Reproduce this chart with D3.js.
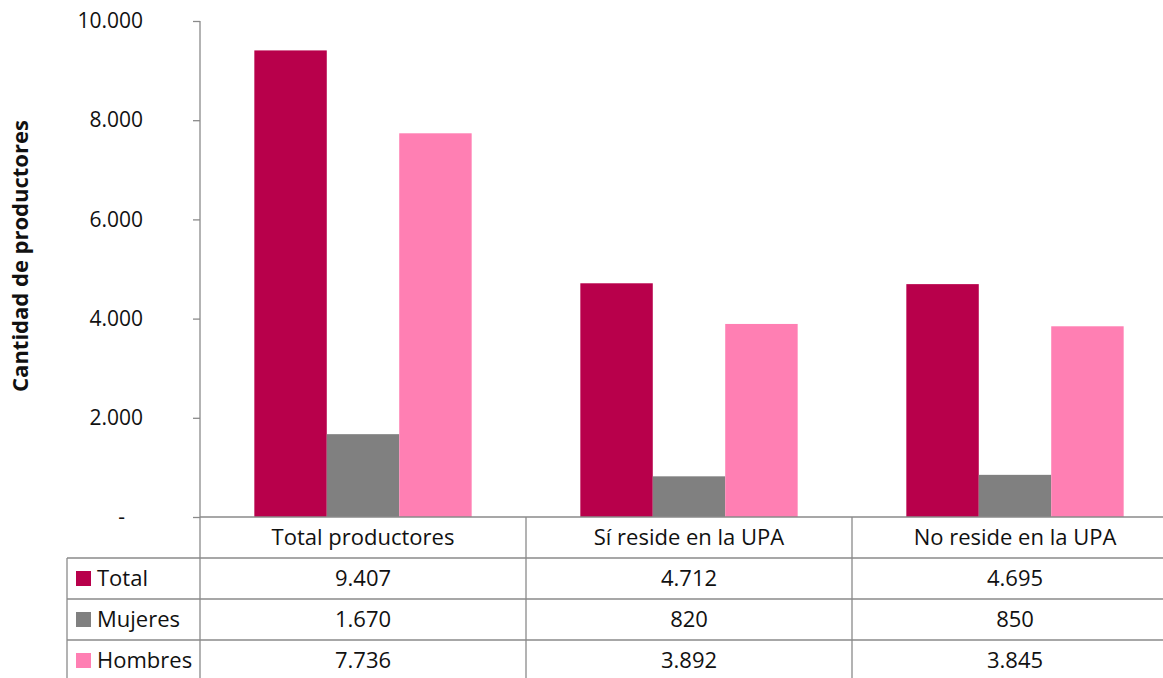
<!DOCTYPE html>
<html>
<head>
<meta charset="utf-8">
<script src="https://cdn.jsdelivr.net/npm/d3@7"></script>
<style>
  body { margin: 0; background: #fff; }
  svg { display: block; font-family: "Open Sans", "Noto Sans", sans-serif; }
</style>
</head>
<body>
<svg id="chart" width="1163" height="678"></svg>
<script>
// data
const categories = ["Total productores", "Sí reside en la UPA", "No reside en la UPA"];
const seriesNames = ["Total", "Mujeres", "Hombres"];
const totalValues = [9407, 4712, 4695];
const mujeresValues = [1670, 820, 850];
const hombresValues = [7736, 3892, 3845];
const yTicks = [0, 2000, 4000, 6000, 8000, 10000];

const colors = ["#b8004b", "#808080", "#ff7fb3"];
const lineColor = "#8a8a8a";

const series = [totalValues, mujeresValues, hombresValues];

const svg = d3.select("#chart");
const locale = d3.formatLocale({ decimal: ",", thousands: ".", grouping: [3], currency: ["", ""] });
const fmt = locale.format(",d");

const plotLeft = 200, plotTop = 21, plotBottom = 517;
const bandW = 326;
const fs = 22;

const x = d3.scaleBand()
    .domain(categories)
    .range([plotLeft, plotLeft + bandW * categories.length])
    .paddingInner(0).paddingOuter(0);

const xs = d3.scaleBand()
    .domain(seriesNames)
    .range([0, x.bandwidth()])
    .paddingInner(0).paddingOuter(0.75);

const y = d3.scaleLinear().domain([0, 10000]).range([plotBottom, plotTop]);

// bars
const groups = svg.append("g").selectAll("g")
    .data(categories)
    .join("g")
    .attr("transform", d => `translate(${x(d)},0)`);

groups.selectAll("rect")
    .data((c, i) => seriesNames.map((s, j) => ({ s, v: series[j][i], c: colors[j] })))
    .join("rect")
    .attr("x", d => xs(d.s))
    .attr("width", xs.bandwidth())
    .attr("y", d => y(d.v))
    .attr("height", d => y(0) - y(d.v))
    .attr("fill", d => d.c);

// y axis
const yAxis = svg.append("g")
    .attr("transform", `translate(${plotLeft},0)`)
    .call(d3.axisLeft(y).tickValues(yTicks).tickSize(7).tickPadding(50)
        .tickFormat(d => d === 0 ? "-" : fmt(d)));
yAxis.select(".domain").attr("stroke", lineColor).attr("stroke-width", 1.3)
    .attr("d", `M0,${plotTop}V678`);
yAxis.selectAll(".tick line").attr("stroke", lineColor).attr("stroke-width", 1.3);
yAxis.selectAll(".tick text")
    .attr("font-size", 21).attr("fill", "#111")
    .attr("font-family", "\"Open Sans\", sans-serif")
    .attr("dx", d => d === 0 ? -18 : 0);

svg.append("text")
    .attr("transform", `translate(28,256) rotate(-90)`)
    .attr("text-anchor", "middle")
    .attr("font-size", 22).attr("font-weight", "bold").attr("fill", "#111")
    .text("Cantidad de productores");

// data table
const tableLeft = 67, rowH = 41;
const rowTop = plotBottom + rowH; // first series row
const tbl = svg.append("g");

// horizontal lines
tbl.append("line").attr("x1", plotLeft).attr("x2", 1163).attr("y1", plotBottom).attr("y2", plotBottom)
    .attr("stroke", lineColor).attr("stroke-width", 1.3);
for (let r = 0; r < seriesNames.length; r++) {
    tbl.append("line").attr("x1", tableLeft).attr("x2", 1163)
        .attr("y1", rowTop + r * rowH).attr("y2", rowTop + r * rowH)
        .attr("stroke", lineColor).attr("stroke-width", 1.3);
}
// vertical lines
tbl.append("line").attr("x1", tableLeft).attr("x2", tableLeft).attr("y1", rowTop).attr("y2", 678)
    .attr("stroke", lineColor).attr("stroke-width", 1.3);
categories.slice(1).forEach(c => {
    tbl.append("line").attr("x1", x(c)).attr("x2", x(c)).attr("y1", plotBottom).attr("y2", 678)
        .attr("stroke", lineColor).attr("stroke-width", 1.3);
});

// header text
tbl.selectAll("text.cat")
    .data(categories)
    .join("text")
    .attr("class", "cat")
    .attr("x", d => x(d) + x.bandwidth() / 2)
    .attr("y", plotBottom + rowH / 2)
    .attr("dy", "0.35em")
    .attr("text-anchor", "middle")
    .attr("font-size", fs).attr("fill", "#111")
    .text(d => d);

// series rows
seriesNames.forEach((s, j) => {
    const cy = rowTop + j * rowH + rowH / 2;
    tbl.append("rect").attr("x", 76).attr("y", cy - 7.5).attr("width", 15).attr("height", 15)
        .attr("fill", colors[j]);
    tbl.append("text").attr("x", 97).attr("y", cy).attr("dy", "0.35em")
        .attr("font-size", fs).attr("fill", "#111").text(s);
    tbl.selectAll(null)
        .data(categories)
        .join("text")
        .attr("x", d => x(d) + x.bandwidth() / 2)
        .attr("y", cy)
        .attr("dy", "0.35em")
        .attr("text-anchor", "middle")
        .attr("font-size", fs).attr("fill", "#111")
        .text((d, i) => fmt(series[j][i]));
});
</script>
</body>
</html>
